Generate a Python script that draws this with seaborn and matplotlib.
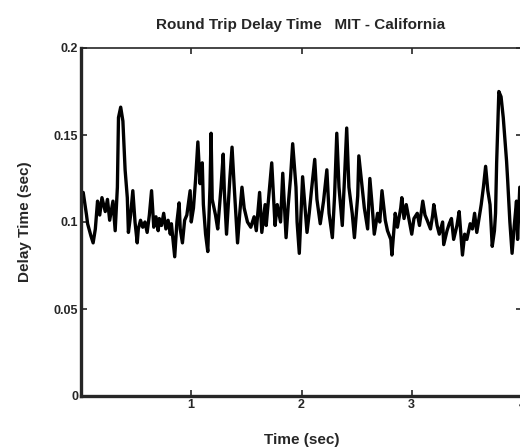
import numpy as np
import pandas as pd
import matplotlib
matplotlib.use("Agg")
import matplotlib.pyplot as plt
import seaborn as sns

# data
time_sec = [0.00, 0.02, 0.05, 0.06, 0.09, 0.11, 0.13, 0.15, 0.17, 0.19,
            0.22, 0.24, 0.26, 0.29, 0.31, 0.33, 0.34, 0.36, 0.38, 0.40,
            0.42, 0.43, 0.45, 0.47, 0.49, 0.51, 0.52, 0.54, 0.56, 0.58,
            0.60, 0.62, 0.64, 0.66, 0.68, 0.70, 0.71, 0.73, 0.75, 0.77,
            0.79, 0.81, 0.82, 0.85, 0.87, 0.89, 0.90, 0.92, 0.94, 0.96,
            0.99, 1.00, 1.02, 1.04, 1.06, 1.08, 1.10, 1.11, 1.13, 1.15,
            1.17, 1.18, 1.19, 1.22, 1.24, 1.27, 1.29, 1.30, 1.32, 1.35,
            1.37, 1.39, 1.42, 1.44, 1.46, 1.48, 1.51, 1.54, 1.57, 1.59,
            1.62, 1.64, 1.67, 1.68, 1.71, 1.73, 1.76, 1.78, 1.81, 1.83,
            1.86, 1.88, 1.90, 1.92, 1.95, 1.96, 1.98, 2.01, 2.03, 2.05,
            2.07, 2.09, 2.12, 2.14, 2.17, 2.20, 2.23, 2.25, 2.28, 2.30,
            2.32, 2.34, 2.37, 2.39, 2.41, 2.43, 2.46, 2.48, 2.51, 2.52,
            2.55, 2.57, 2.60, 2.62, 2.64, 2.66, 2.69, 2.71, 2.73, 2.76,
            2.78, 2.81, 2.82, 2.85, 2.87, 2.90, 2.91, 2.93, 2.95, 2.98,
            3.00, 3.02, 3.05, 3.07, 3.10, 3.12, 3.14, 3.17, 3.19, 3.20,
            3.23, 3.25, 3.28, 3.29, 3.32, 3.34, 3.36, 3.38, 3.41, 3.43,
            3.46, 3.48, 3.50, 3.53, 3.55, 3.57, 3.59, 3.61, 3.63, 3.65,
            3.67, 3.69, 3.71, 3.73, 3.75, 3.76, 3.77, 3.79, 3.81, 3.83,
            3.86, 3.87, 3.89, 3.91, 3.93, 3.95, 3.96, 3.98]

delay_sec = [0.110, 0.117, 0.104, 0.099, 0.092, 0.088, 0.096, 0.112, 0.104, 0.114,
             0.106, 0.113, 0.101, 0.112, 0.095, 0.120, 0.160, 0.166, 0.158, 0.130,
             0.114, 0.094, 0.104, 0.118, 0.100, 0.088, 0.096, 0.101, 0.097, 0.100,
             0.094, 0.104, 0.118, 0.097, 0.103, 0.095, 0.102, 0.098, 0.105, 0.096,
             0.101, 0.093, 0.099, 0.080, 0.100, 0.111, 0.096, 0.088, 0.101, 0.104,
             0.118, 0.100, 0.108, 0.125, 0.146, 0.122, 0.134, 0.110, 0.093, 0.083,
             0.120, 0.151, 0.113, 0.104, 0.096, 0.120, 0.139, 0.118, 0.093, 0.125,
             0.143, 0.120, 0.088, 0.105, 0.120, 0.108, 0.100, 0.097, 0.103, 0.095,
             0.117, 0.094, 0.110, 0.098, 0.120, 0.134, 0.098, 0.110, 0.100, 0.128,
             0.091, 0.110, 0.125, 0.145, 0.120, 0.100, 0.082, 0.126, 0.110, 0.094,
             0.105, 0.118, 0.136, 0.113, 0.099, 0.112, 0.130, 0.105, 0.091, 0.115,
             0.151, 0.120, 0.098, 0.125, 0.154, 0.120, 0.105, 0.091, 0.115, 0.138,
             0.120, 0.108, 0.096, 0.125, 0.110, 0.093, 0.105, 0.100, 0.118, 0.101,
             0.095, 0.090, 0.081, 0.105, 0.097, 0.108, 0.114, 0.102, 0.110, 0.100,
             0.093, 0.102, 0.105, 0.098, 0.112, 0.104, 0.101, 0.096, 0.104, 0.110,
             0.098, 0.093, 0.100, 0.087, 0.095, 0.099, 0.102, 0.090, 0.098, 0.106,
             0.081, 0.093, 0.090, 0.099, 0.096, 0.105, 0.094, 0.102, 0.110, 0.120,
             0.132, 0.118, 0.110, 0.086, 0.095, 0.105, 0.134, 0.175, 0.172, 0.160,
             0.135, 0.124, 0.100, 0.082, 0.098, 0.112, 0.090, 0.120]

x_ticks = [0, 1, 2, 3, 4]
x_tick_labels = ["", "1", "2", "3", "4"]
y_ticks = [0, 0.05, 0.1, 0.15, 0.2]
y_tick_labels = ["0", "0.05", "0.1", "0.15", "0.2"]

df = pd.DataFrame({"Time (sec)": time_sec, "Delay Time (sec)": delay_sec})

sns.set_style("ticks")
plt.rcParams["font.family"] = ["Liberation Sans", "DejaVu Sans"]

fig = plt.figure(figsize=(5.2, 4.47), dpi=100)
ax = fig.add_axes([81 / 520, 51 / 447, 441 / 520, 348 / 447])

sns.lineplot(data=df, x="Time (sec)", y="Delay Time (sec)", color="black",
             linewidth=2.4, ax=ax, sort=False)

ax.set_xlim(0, 4)
ax.set_ylim(0, 0.2)
ax.set_xticks(x_ticks)
ax.set_xticklabels(x_tick_labels, fontsize=9, fontweight="bold")
ax.set_yticks(y_ticks)
ax.set_yticklabels(y_tick_labels, fontsize=9, fontweight="bold")
ax.tick_params(direction="in", length=4, width=1.2, top=True, right=True, pad=2)

for side in ["left", "bottom"]:
    ax.spines[side].set_linewidth(2.4)
for side in ["top", "right"]:
    ax.spines[side].set_visible(True)
    ax.spines[side].set_linewidth(1.2)

ax.set_title("Round Trip Delay Time   MIT - California", fontsize=11,
             fontweight="bold", pad=14, x=0.498)
ax.set_xlabel("Time (sec)", fontsize=11, fontweight="bold", labelpad=16)
ax.set_ylabel("Delay Time (sec)", fontsize=11, fontweight="bold", labelpad=16)

fig.savefig("out.png", dpi=100)
